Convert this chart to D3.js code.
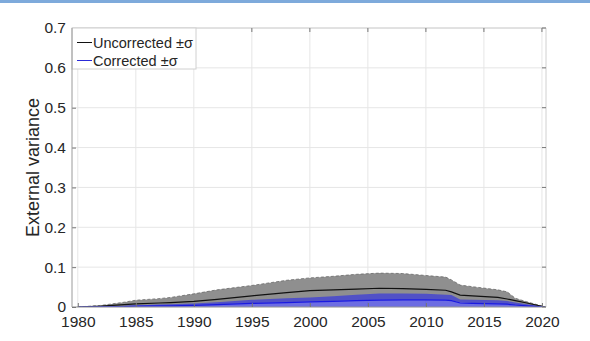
<!DOCTYPE html>
<html>
<head>
<meta charset="utf-8">
<script src="https://cdn.jsdelivr.net/npm/d3@7/dist/d3.min.js"></script>
<style>
  html, body { margin: 0; padding: 0; background: #fff; }
  svg { display: block; }
  text { font-family: "Liberation Sans", Arial, Helvetica, sans-serif; fill: #262626; }
</style>
</head>
<body>
<svg id="chart" width="590" height="341"></svg>
<script>
// Sample years
const years = [1980, 1982, 1984, 1985, 1987, 1988, 1990, 1992, 1995, 1998, 2000, 2002, 2004, 2006, 2008, 2010, 2011.7, 2012.2, 2012.95, 2014, 2016.2, 2017, 2017.7, 2018.7, 2020.3];

// Uncorrected external variance: mean and ±σ envelope
const uncorrectedUpper = [0, 0.004, 0.012, 0.017, 0.021, 0.024, 0.033, 0.043, 0.054, 0.067, 0.073, 0.077, 0.082, 0.085, 0.084, 0.079, 0.075, 0.068, 0.055, 0.051, 0.043, 0.038, 0.022, 0.013, 0];
const uncorrectedMean  = [0, 0.002, 0.006, 0.008, 0.010, 0.011, 0.014, 0.019, 0.028, 0.036, 0.041, 0.043, 0.045, 0.047, 0.046, 0.044, 0.042, 0.038, 0.030, 0.028, 0.024, 0.020, 0.016, 0.010, 0];
const uncorrectedLower = [0, 0.001, 0.002, 0.003, 0.004, 0.004, 0.005, 0.007, 0.010, 0.012, 0.014, 0.015, 0.017, 0.018, 0.019, 0.019, 0.018, 0.017, 0.011, 0.010, 0.009, 0.007, 0.005, 0.003, 0];

// Corrected external variance: mean and ±σ envelope
const correctedUpper = [0, 0.001, 0.003, 0.004, 0.006, 0.007, 0.009, 0.012, 0.018, 0.022, 0.024, 0.027, 0.031, 0.034, 0.034, 0.033, 0.031, 0.030, 0.019, 0.018, 0.017, 0.015, 0.011, 0.007, 0];
const correctedMean  = [0, 0.0005, 0.001, 0.002, 0.003, 0.003, 0.004, 0.006, 0.009, 0.011, 0.013, 0.014, 0.016, 0.017, 0.018, 0.018, 0.017, 0.016, 0.010, 0.009, 0.008, 0.007, 0.005, 0.003, 0];
const correctedLower = [0, 0, 0, 0, 0, 0, 0, 0, 0, 0, 0, 0, 0, 0, 0, 0, 0, 0, 0, 0, 0, 0, 0, 0, 0];

// Axis ticks
const xTicks = [1980, 1985, 1990, 1995, 2000, 2005, 2010, 2015, 2020];
const yTicks = [0, 0.1, 0.2, 0.3, 0.4, 0.5, 0.6, 0.7];
const legendLabels = ["Uncorrected \u00b1\u03c3", "Corrected \u00b1\u03c3"];

const svg = d3.select("#chart");
const W = 590, H = 341;
const plot = { left: 72, right: 546, top: 28, bottom: 307 };

// header strip
svg.append("rect").attr("x", 0).attr("y", 0).attr("width", W).attr("height", 3).attr("fill", "#7eaadb");

const x = d3.scaleLinear().domain([1979.5, 2020.35]).range([plot.left, plot.right]);
const y = d3.scaleLinear().domain([0, 0.7]).range([plot.bottom, plot.top]);

// grid
const grid = svg.append("g");
grid.selectAll("line.gx").data(xTicks).join("line")
  .attr("x1", d => x(d)).attr("x2", d => x(d))
  .attr("y1", plot.top).attr("y2", plot.bottom)
  .attr("stroke", "#e6e6e6").attr("stroke-width", 1);
grid.selectAll("line.gy").data(yTicks).join("line")
  .attr("x1", plot.left).attr("x2", plot.right)
  .attr("y1", d => y(d)).attr("y2", d => y(d))
  .attr("stroke", "#e6e6e6").attr("stroke-width", 1);

svg.append("clipPath").attr("id", "clip").append("rect")
  .attr("x", plot.left).attr("y", plot.top)
  .attr("width", plot.right - plot.left).attr("height", plot.bottom - plot.top);

const g = svg.append("g").attr("clip-path", "url(#clip)");
const idx = d3.range(years.length);

const band = (lo, hi) => d3.area()
  .x(i => x(years[i])).y0(i => y(lo[i])).y1(i => y(hi[i]));
const line = (v) => d3.line().x(i => x(years[i])).y(i => y(v[i]));

// uncorrected envelope
g.append("path").attr("d", band(uncorrectedLower, uncorrectedUpper)(idx))
  .attr("fill", "#8f8f8f").attr("stroke", "none");
g.append("path").attr("d", line(uncorrectedUpper)(idx))
  .attr("fill", "none").attr("stroke", "#6a6a6a").attr("stroke-width", 0.8)
  .attr("stroke-dasharray", "3,2");

// corrected envelope (translucent, darker where it overlaps)
g.append("path").attr("d", band(correctedLower, correctedUpper)(idx))
  .attr("fill", "#3c3cd8").attr("fill-opacity", 0.75).attr("stroke", "none");

// means
g.append("path").attr("d", line(uncorrectedMean)(idx))
  .attr("fill", "none").attr("stroke", "#111").attr("stroke-width", 1.2);
g.append("path").attr("d", line(correctedMean)(idx))
  .attr("fill", "none").attr("stroke", "#1a1ae0").attr("stroke-width", 1.2);

// box
svg.append("line").attr("x1", plot.left).attr("x2", plot.right).attr("y1", plot.top).attr("y2", plot.top)
  .attr("stroke", "#d0d0d0");
svg.append("line").attr("x1", plot.right).attr("x2", plot.right).attr("y1", plot.top).attr("y2", plot.bottom)
  .attr("stroke", "#d0d0d0");
svg.append("line").attr("x1", plot.left).attr("x2", plot.right).attr("y1", plot.bottom).attr("y2", plot.bottom)
  .attr("stroke", "#9a9a9a");

// axes (ticks inward)
const xAxis = d3.axisBottom(x).tickValues(xTicks).tickFormat(d3.format("d")).tickSizeInner(-4).tickSizeOuter(0).tickPadding(8);
const yAxis = d3.axisLeft(y).tickValues(yTicks).tickFormat(d => d === 0 ? "0" : d3.format(".1f")(d)).tickSizeInner(-4).tickSizeOuter(0).tickPadding(6);

const gx = svg.append("g").attr("transform", `translate(0,${plot.bottom})`).call(xAxis);
const gy = svg.append("g").attr("transform", `translate(${plot.left},0)`).call(yAxis);
[gx, gy].forEach(a => {
  a.select(".domain").remove();
  a.selectAll(".tick line").attr("stroke", "#777");
  a.selectAll(".tick text").attr("font-size", 15.5).attr("fill", "#262626")
    .attr("font-family", "'Liberation Sans', Arial, sans-serif");
});
gx.selectAll(".tick text").attr("dy", "0.75em");

// mirrored ticks on top and right
svg.append("g").selectAll("line").data(xTicks).join("line")
  .attr("x1", d => x(d)).attr("x2", d => x(d)).attr("y1", plot.top).attr("y2", plot.top + 4)
  .attr("stroke", "#777");
svg.append("g").selectAll("line").data(yTicks).join("line")
  .attr("x1", plot.right - 4).attr("x2", plot.right).attr("y1", d => y(d)).attr("y2", d => y(d))
  .attr("stroke", "#777");

// y label
svg.append("text")
  .attr("transform", `translate(39,237) rotate(-90)`)
  .attr("text-anchor", "start").attr("font-size", 18)
  .text("External variance");

// legend
const lg = svg.append("g");
lg.append("rect").attr("x", plot.left).attr("y", plot.top).attr("width", 124).attr("height", 41)
  .attr("fill", "#fff").attr("stroke", "#d0d0d0").attr("stroke-width", 1);
const legColors = ["#111", "#2a2ad8"];
legendLabels.forEach((t, i) => {
  const ly = 42.5 + i * 18;
  lg.append("line").attr("x1", 77).attr("x2", 92).attr("y1", ly).attr("y2", ly)
    .attr("stroke", legColors[i]).attr("stroke-width", 1);
  lg.append("text").attr("x", 93).attr("y", ly).attr("dy", "0.36em")
    .attr("font-size", 14.5).text(t);
});
// left axis line drawn over the legend frame
svg.append("line").attr("x1", plot.left).attr("x2", plot.left).attr("y1", plot.top).attr("y2", plot.bottom)
  .attr("stroke", "#9a9a9a");
</script>
</body>
</html>
